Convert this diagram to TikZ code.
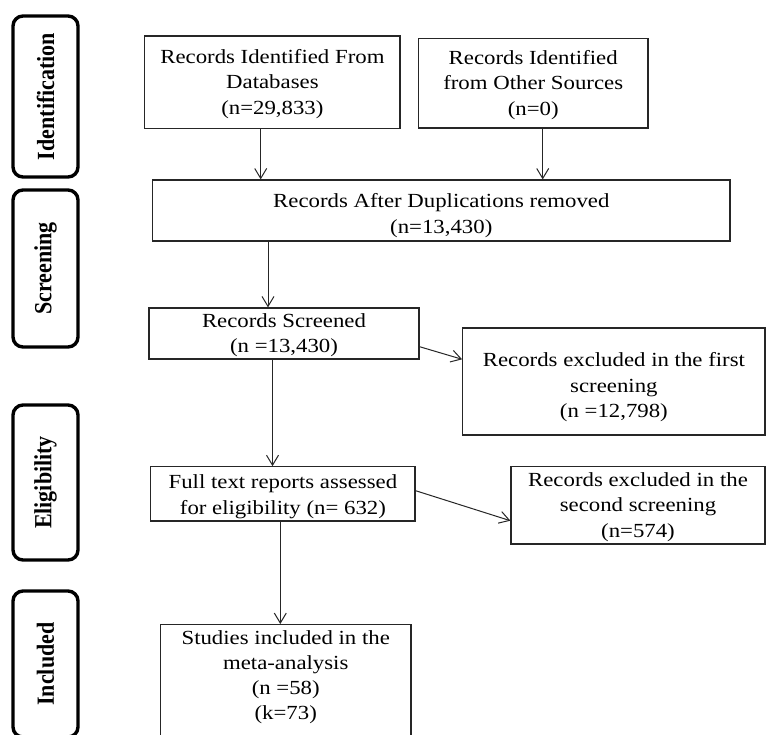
\documentclass[tikz,border=0pt]{standalone}
\usepackage{fontspec}
\setmainfont[FakeStretch=1.14]{Liberation Serif}
\newfontfamily\sidefont{Liberation Serif}
\usetikzlibrary{arrows.meta}
\tikzset{
  box/.style={draw=black!85, line width=1.2pt, inner sep=0pt, align=center,
    font=\fontsize{20}{25.5}\selectfont},
  sidebox/.style={draw=black, line width=3.4pt, rounded corners=10pt, inner sep=0pt,
    minimum width=65pt},
  sidelabel/.style={rotate=90, inner sep=0pt, font=\sidefont\bfseries\fontsize{22}{26}\selectfont},
  arr/.style={draw=black!85, line width=1pt, -{Straight Barb[length=10pt,width=12pt,line width=1pt]}},
  txt/.style={inner sep=0pt, align=center, font=\fontsize{20}{25}\selectfont}
}
\begin{document}
\begin{tikzpicture}[x=1pt,y=-1pt]
\useasboundingbox (0,0) rectangle (767,734);
\clip (0,0) rectangle (767,734);
\fill[white] (0,0) rectangle (767,734);

% side stage boxes
\node[sidebox, minimum height=161pt] (sid) at (45.5,96.5) {};
\node[sidelabel] (sidt) at (sid.center) {\scalebox{1}[1.12]{Identification}};
\node[sidebox, minimum height=157pt] (sscr) at (45.5,268.5) {};
\node[sidelabel] (sscrt) at (sscr.center) {\scalebox{1}[1.12]{Screening}};
\node[sidebox, minimum height=155pt] (selg) at (45.5,482.5) {};
\node[sidelabel] (selgt) at (selg.center) {\scalebox{1}[1.12]{Eligibility}};
\node[sidebox, minimum height=146pt] (sinc) at (45.5,664) {};
\node[sidelabel] (sinct) at (sinc.center) {\scalebox{1}[1.12]{Included}};

% flow boxes
\node[box, minimum width=255.3pt, minimum height=92.3pt] (db) at (272.4,82.2)
  {\rule{0pt}{17pt}Records Identified From\\Databases\\(n=29,833)};
\node[box, minimum width=229.7pt, minimum height=89.7pt] (oth) at (533.2,83.2)
  {\rule{0pt}{17pt}Records Identified\\from Other Sources\\(n=0)};
\node[box, minimum width=577.4pt, minimum height=61pt] (dup) at (441.3,210.5)
  {\rule{0pt}{24pt}Records After Duplications removed\\(n=13,430)};
\node[box, minimum width=270pt, minimum height=51pt] (scr) at (284,333.5)
  {\rule{0pt}{17pt}Records Screened\\(n =13,430)};
\node[box, minimum width=302.3pt, minimum height=107pt] (ex1) at (613.9,381.5)
  {\rule{0pt}{26pt}Records excluded in the first\\screening\\(n =12,798)};
\node[box, minimum width=264.3pt, minimum height=54.3pt] (full) at (282.9,493.9)
  {\rule{0pt}{19pt}Full text reports assessed\\for eligibility (n= 632)};
\node[box, minimum width=254pt, minimum height=77.3pt] (ex2) at (638,505.3)
  {\rule{0pt}{17pt}Records excluded in the\\second screening\\(n=574)};
\node[box, minimum width=250.5pt, minimum height=140pt, anchor=north] (inc) at (285.75,624) {};
\node[txt, anchor=north] (inct) at (285.75,630.5)
  {Studies included in the\\meta-analysis\\(n =58)\\(k=73)};

% helper coordinates for connector positions
\coordinate (xa) at (260.7,0);
\coordinate (xb) at (542.7,0);
\coordinate (xc) at (268,0);
\coordinate (xd) at (272.5,0);
\coordinate (xe) at (280.3,0);
\coordinate (ya) at (0,346.7);
\coordinate (yb) at (0,359.3);
\coordinate (yc) at (0,490.7);
\coordinate (yd) at (0,520.7);

% connectors
\draw[arr] (db.south -| xa) -- (dup.north -| xa);
\draw[arr] (oth.south -| xb) -- (dup.north -| xb);
\draw[arr] (dup.south -| xc) -- (scr.north -| xc);
\draw[arr] (scr.south -| xd) -- (full.north -| xd);
\draw[arr] (full.south -| xe) -- (inc.north -| xe);
\draw[arr] (scr.east |- ya) -- (ex1.west |- yb);
\draw[arr] (full.east |- yc) -- (ex2.west |- yd);
\end{tikzpicture}
\end{document}
